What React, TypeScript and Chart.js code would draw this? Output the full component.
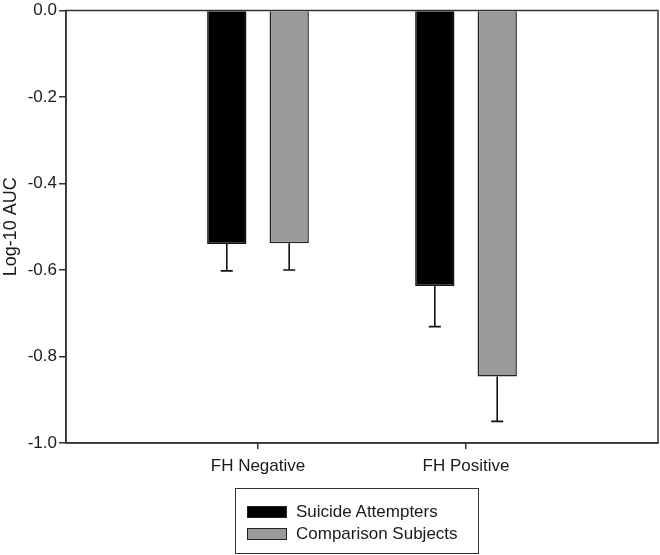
import React, { useEffect, useRef } from "react";
import { Chart, registerables } from "chart.js";

Chart.register(...registerables);

const categories = ["FH Negative", "FH Positive"];
const categoryPositions = [1, 2];
const seriesNames = ["Suicide Attempters", "Comparison Subjects"];
const attempters = [-0.54, -0.637];
const comparison = [-0.538, -0.846];
const attemptersErr = [0.062, 0.094];
const comparisonErr = [0.062, 0.104];
const seriesColors = ["#000000", "#9b9b9b"];
const yTicks = [0, -0.2, -0.4, -0.6, -0.8, -1.0];
const yTitle = "Log-10 AUC";

const FONT = "'Liberation Sans', Arial, sans-serif";

const errorBarPlugin = {
  id: "errorBars",
  afterDatasetsDraw(chart: any) {
    const ctx = chart.ctx;
    const yScale = chart.scales.y;
    chart.data.datasets.forEach((ds: any, i: number) => {
      const meta = chart.getDatasetMeta(i);
      meta.data.forEach((el: any, j: number) => {
        const v = ds.data[j].y;
        const e = ds.errors[j];
        const yStart = yScale.getPixelForValue(v);
        const yEnd = yScale.getPixelForValue(v - e);
        ctx.save();
        ctx.strokeStyle = "#111";
        ctx.lineWidth = 1.6;
        ctx.beginPath();
        ctx.moveTo(el.x, yStart);
        ctx.lineTo(el.x, yEnd);
        ctx.moveTo(el.x - 6, yEnd);
        ctx.lineTo(el.x + 6, yEnd);
        ctx.stroke();
        ctx.restore();
      });
    });
  },
};

const framePlugin = {
  id: "frame",
  afterDatasetsDraw(chart: any) {
    const { left, top, right, bottom } = chart.chartArea;
    const ctx = chart.ctx;
    ctx.save();
    ctx.strokeStyle = "#333";
    ctx.lineWidth = 1.5;
    ctx.strokeRect(left, top, right - left, bottom - top);
    ctx.restore();
  },
};

export default function App() {
  const ref = useRef<HTMLCanvasElement>(null);

  useEffect(() => {
    if (!ref.current) return;
    const mk = (vals: number[]) =>
      vals.map((v, i) => ({ x: categoryPositions[i], y: v }));
    const chart = new Chart(ref.current, {
      type: "bar",
      data: {
        datasets: [
          {
            label: seriesNames[0],
            data: mk(attempters),
            errors: attemptersErr,
            backgroundColor: seriesColors[0],
            borderColor: "#111",
            borderWidth: 1.5,
            categoryPercentage: 0.6,
            barPercentage: 0.63,
          } as any,
          {
            label: seriesNames[1],
            data: mk(comparison),
            errors: comparisonErr,
            backgroundColor: seriesColors[1],
            borderColor: "#222",
            borderWidth: 1.5,
            categoryPercentage: 0.6,
            barPercentage: 0.63,
          } as any,
        ],
      },
      options: {
        animation: false,
        responsive: false,
        devicePixelRatio: 1,
        layout: { padding: { top: 9, left: 0, right: 2, bottom: 0 } },
        plugins: {
          legend: { display: false },
          tooltip: { enabled: false },
        },
        scales: {
          x: {
            type: "linear",
            offset: false,
            min: 0.077,
            max: 2.923,
            afterBuildTicks: (s: any) => {
              s.ticks = categoryPositions.map((v) => ({ value: v }));
            },
            afterFit: (s: any) => {
              s.height = 112;
            },
            ticks: {
              autoSkip: false,
              maxRotation: 0,
              padding: 9,
              color: "#1a1a1a",
              font: { family: FONT, size: 17, lineHeight: 1.0 },
              callback: (v: any) => categories[categoryPositions.indexOf(Number(v))] ?? "",
            },
            grid: {
              offset: false,
              drawOnChartArea: false,
              drawTicks: true,
              tickLength: 6,
              tickColor: "#333",
              lineWidth: 1.5,
            },
            border: { display: true, color: "#333", width: 1.5 },
          },
          y: {
            min: -1,
            max: 0,
            afterBuildTicks: (s: any) => {
              s.ticks = yTicks.map((v) => ({ value: v }));
            },
            afterFit: (s: any) => {
              s.width = 66;
            },
            ticks: {
              padding: 2,
              color: "#1a1a1a",
              font: { family: FONT, size: 17, lineHeight: 1.0 },
              callback: (v: any) => Number(v).toFixed(1),
            },
            grid: {
              drawOnChartArea: false,
              drawTicks: true,
              tickLength: 7,
              tickColor: "#333",
              lineWidth: 1.5,
            },
            border: { display: true, color: "#333", width: 1.5 },
            title: {
              display: true,
              text: yTitle,
              color: "#1a1a1a",
              font: { family: FONT, size: 18 },
              padding: 0,
            },
          },
        },
      } as any,
      plugins: [errorBarPlugin, framePlugin],
    });
    return () => chart.destroy();
  }, []);

  const rowStyle = (top: number): React.CSSProperties => ({
    position: "absolute",
    left: 11,
    top,
    display: "flex",
    alignItems: "center",
    height: 20,
  });

  return (
    <div style={{ position: "absolute", left: 0, top: 0, width: 660, height: 555, background: "#fff" }}>
      <canvas ref={ref} width={660} height={555} style={{ display: "block" }} />
      <div
        style={{
          position: "absolute",
          left: 235,
          top: 488,
          width: 244,
          height: 66,
          boxSizing: "border-box",
          border: "1.5px solid #333",
          fontFamily: FONT,
          fontSize: 17,
          color: "#1a1a1a",
        }}
      >
        {seriesNames.map((name, i) => (
          <div key={name} style={rowStyle(i === 0 ? 13 : 35)}>
            <span
              style={{
                display: "inline-block",
                width: 40,
                height: 12,
                boxSizing: "border-box",
                background: seriesColors[i],
                border: "1.5px solid #222",
                marginRight: 9,
              }}
            />
            <span>{name}</span>
          </div>
        ))}
      </div>
    </div>
  );
}
